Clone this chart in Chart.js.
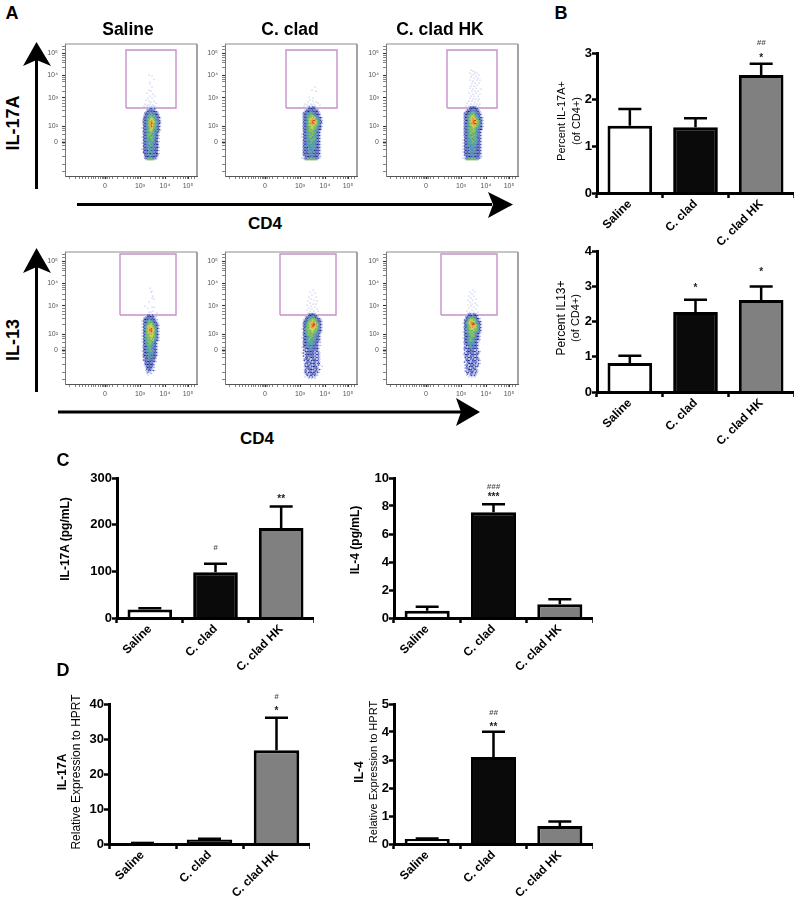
<!DOCTYPE html>
<html>
<head>
<meta charset="utf-8">
<script src="https://cdn.jsdelivr.net/npm/chart.js@4"></script>
<style>
  html, body { margin: 0; padding: 0; background: #fff; }
  #page { position: relative; width: 800px; height: 901px; overflow: hidden; font-family: "Liberation Sans", Arial, sans-serif; color: #000; }
  #page canvas { position: absolute; }
  #page canvas.flow { filter: blur(0.5px); }
  .lbl { position: absolute; white-space: nowrap; transform: translate(-50%, -50%); line-height: 1; }
  svg { position: absolute; left: 0; top: 0; }
</style>
</head>
<body>
<div id="page">
  <svg width="800" height="901">
    <g fill="#000" stroke="none">
      <rect x="35" y="60" width="3" height="129"/><polygon points="36.5,42 51,66 36.5,60 23,66"/>
      <rect x="77" y="203" width="415" height="3"/><polygon points="513,204.5 488,218 493,204.5 488,192"/>
      <rect x="35" y="265" width="3" height="127"/><polygon points="36.5,248 51,273 36.5,267 23,273"/>
      <rect x="58" y="410.5" width="405" height="3"/><polygon points="480,412 456,426 461,412 456,398"/>
    </g>
  </svg>
</div>
<script>
// bar panels
const groups = ['Saline', 'C. clad', 'C. clad HK'];
const barFills = ['#ffffff', '#0a0a0a', '#808080'];

const pctIl17a = [1.44, 1.41, 2.53];
const pctIl17aErr = [1.80, 1.60, 2.77];
const pctIl17aMarks = [[2, 2.92, '*'], [2, 3.21, '##']];

const pctIl13 = [0.82, 2.27, 2.61];
const pctIl13Err = [1.03, 2.62, 2.99];
const pctIl13Marks = [[1, 3.0, '*'], [2, 3.45, '*']];

const il17aPg = [18, 98, 193];
const il17aPgErr = [21, 116, 239];
const il17aPgMarks = [[1, 150, '#'], [2, 258, '**']];

const il4Pg = [0.52, 7.56, 0.98];
const il4PgErr = [0.81, 8.13, 1.34];
const il4PgMarks = [[1, 8.7, '***'], [1, 9.35, '###']];

const il17aRel = [0.3, 1.3, 26.8];
const il17aRelErr = [0.3, 1.5, 36.1];
const il17aRelMarks = [[2, 38.3, '*'], [2, 42, '#']];

const il4Rel = [0.18, 3.11, 0.64];
const il4RelErr = [0.2, 4.01, 0.8];
const il4RelMarks = [[1, 4.22, '**'], [1, 4.68, '##']];

// flow plots, display channels 0-132 on both axes
const flowXMajor = [40, 75, 100, 123];
const flowXLabels = ['0', '10³', '10⁴', '10⁵'];
const flowXMinor = [4, 10, 14, 17, 20, 23, 26, 28, 30, 33, 35, 37, 38, 42, 44, 47, 52, 58, 62, 65, 68, 70, 72, 73, 85, 90, 94, 97, 98, 108, 112, 115, 118, 120, 122, 126, 129];
const flowYMajor = [34, 50, 78, 101, 123];
const flowYLabels = ['0', '10²', '10³', '10⁴', '10⁵'];
const flowYMinor = [5, 12, 20, 27, 31, 37, 42, 46, 48, 60, 66, 70, 73, 76, 85, 90, 94, 97, 99, 108, 113, 116, 119, 121, 126, 129];

// density, top row first, one char per 1.5 channels
const gridIl17aSaline = [
'.....--.-....',
'....-bb-b-...',
'...-bbdbb-...',
'..-bbtbbdb-..',
'..bdbttbbbb-.',
'.-bbttgttdb-.',
'.-dbtggtgtbb.',
'.bbttgygttbd-',
'.bdtggyygtbb-',
'-bbtgyoygttb-',
'.dbtgoroygtbb',
'-bbtgyrogttd-',
'.bdtgoryggtb-',
'.bbtgyrogtbb-',
'-dbttgoygttd.',
'.bbtgyygttbb-',
'.dbtggygtbbd-',
'-bbttgggttb-.',
'.bdtgggttbd-.',
'.bbtggtgtbb-.',
'-dbtgtggtbd-.',
'.bbttggttbb-.',
'.dbtgttgtdb..',
'.bbtttgttbb-.',
'-bdttgttbdb-.',
'.bbttgttbbd..',
'.dbbttttbbb-.',
'.bbtttbttbd-.',
'-bdbttttbdb..',
'.bbdttbtbbb-.',
'.dbbttttbdb..',
'.bbbtdtbbdb-.',
'..dbbttbbbd-.',
'.-bdbtbdbb-..',
'..bbgtgtbb-..',
'..-ggggg--...'];
const gridIl17aClad = [
'....-b-bb-....',
'...-bbdbb--...',
'..-bdbbdbbb-..',
'.-bbdttbbdb-..',
'.bdbttttbdbb-.',
'-bbttggttbdb-.',
'.bdtgggygtbb-.',
'-bbtggyoygtbd-',
'.bdtgyyoygttb-',
'-bbtgyorrygtb-',
'.dbtgyoroygtbd',
'-bbtggoroygtb-',
'.bdtgyyoyggtb-',
'-bbtggyyggtbd-',
'.dbttgyyggtbb-',
'-bbtgggygttdb.',
'.bdtggggttbb-.',
'.bbttggggtbd-.',
'-dbtggtgtttb-.',
'.bbttgggttbd-.',
'-bdttggtttbb-.',
'.bbttgtggtdb-.',
'.dbtttggttbb-.',
'-bbtttgtttbd-.',
'.bdbttgttbbb-.',
'-bbttttttbdb-.',
'.dbttbttttbb-.',
'-bbdtttttbdb-.',
'.bdbttbttbbb-.',
'-bbbttttdbbb-.',
'.dbdtttbtbdb-.',
'-bbbbttbbbbd-.',
'.bdbbtbtbdbb-.',
'.-bbdbtbbdb--.',
'--bbgtgtgbbb-.',
'.-gggggggg-...'];
const gridIl17aHk = [
'....-bbdb-....',
'...-bdbbdb-...',
'..-bbdtbbdb-..',
'.-bdbttttbb-..',
'.bbdttggtbdb-.',
'-bdttgggttbb-.',
'.bbtggyygtbd-.',
'-dbtgyoyggtbb-',
'.bbtgyooygtdb-',
'-bdtgyorrygtb-',
'.bbtgyoroygtd-',
'-dbtggorrggtb-',
'.bbtgyyooggtb-',
'-bbttgyyygtbd-',
'.dbtgggygttbb-',
'-bbtgggggtbdb.',
'.bdttggygtbb-.',
'-bbtggggttbd-.',
'.dbttggtgtbb-.',
'-bbtgtgggttb-.',
'.bdttgggttdb-.',
'.bbttgtggtbb-.',
'-dbtttgtttbd-.',
'.bbtttggttbb-.',
'-bdbttgtttdb-.',
'.bbttttttbbb-.',
'-dbttbtttbdb-.',
'.bbdttttbbbb-.',
'-bdbttbttbdb-.',
'.bbbtttttdbb-.',
'-dbdttbtbbbd-.',
'.bbbbttbbdbb-.',
'.bdbbtbtbbdb-.',
'.-bbdbtbdbb--.',
'--bbgtgtgbbb-.',
'.-gggggggg-...'];
const gridIl13Saline = [
'...-bb-b-...',
'..-bbdbb--..',
'.-bbdtbdb-..',
'.bdbttbbb--.',
'-bbttgttdb-.',
'.bdtgggtbb-.',
'-bbtggygtbd-',
'.btgyyygtbb-',
'-dtgyoyygtb-',
'.btgyorygtd-',
'-btgyrroytb-',
'.dtgyorygtb-',
'-btgyooygtb-',
'.btggyoygtd-',
'-dtggyyygtb-',
'.btgggyggtb-',
'-bttggyggtb-',
'.dtggggytbb-',
'-bttgggttd-.',
'.dttgggtbb-.',
'.bbtggttbd-.',
'-bdttgttbb-.',
'.bbttgtbdb-.',
'.dbttgttbb-.',
'-bbtttgtbd-.',
'.bdbttttbb-.',
'.bbtttbtdb-.',
'-dbbttbbbb-.',
'.bbdtbtbdb..',
'.-bbttbbb-..',
'.bdbtbdbb-..',
'.-bbdbtbb-..',
'..bbbdbb-...',
'.-bdbbdb-...',
'..-bbdbb-...',
'..-dbbb--...',
'...bbdb-....',
'..--bb-b-...',
'...-b--.....',
'...-.--.....',
'....-.......'];
const gridIl13Clad = [
'....-bbdb-....',
'...-bdbtbb-...',
'..-bdttttdb-..',
'..bbttgggtbb-.',
'.-bdtggyggtdb-',
'.bbtggyoygtbb-',
'.bdtgyoorygtb-',
'-btggyorroytd-',
'.bdtgyorrygtb-',
'.btggyooyygtb-',
'-dtggyyyyggtb-',
'.btgggyyggtbd-',
'.bttgggyggtbb-',
'-dtggggggttb-.',
'.bbtggggttbd-.',
'.bdttgggttbb-.',
'-bbttggtttdb-.',
'.dbtggtgtbbb-.',
'.bbttgttbbdb-.',
'-bdtttgttbb--.',
'.bbbttttbdb-..',
'.dbttbtbbbb--.',
'-bbbtttbdbb-..',
'.-bdbttbbbd-..',
'.bb-btbbdbb-..',
'.-dbbdbb-bb-..',
'-b-bbtbdbb-b-.',
'.-bbdbbb-bd-..',
'.b-dbbtbbb-b-.',
'..bb-bdb-bb-..',
'.-bdbb-bdb-b-.',
'.b-bb-dbbbb-..',
'..-bdbb-bb-b-.',
'.-bb-bbdb-bb..',
'..b-dbb-bb-b-.',
'.-bbb-bdbb-..-',
'..-bdbb-bbd-..',
'.-b-bbdb-b-b-.',
'..bb-bb-bdb-..',
'.-b-dbbbb-b-..',
'..-bb-bdbb-...',
'...b-bb-b--...',
'..-.-b-b--....',
'....-.-.-.....'];
const gridIl13Hk = [
'...-bb-bb-...',
'..-bbdtbdb-..',
'..bdttttbb-..',
'.-btggggtdb-.',
'.bdtgyyggtb-.',
'.btgyoyygtbb-',
'-dtgyorrgtbd-',
'.btgyorrygtb-',
'.bdtgyooygtb-',
'-btggyoyygtb-',
'.dttgyyyggtd-',
'.bttgggyggtb-',
'-btgggggttbb-',
'.dbtggggtbd-.',
'.bbttgggtbb-.',
'.bdttgggtdb-.',
'-bbttgttbbb-.',
'.dbtggttbdb-.',
'.bbttgttbb--.',
'-bdtttttdb-..',
'.bbbttbtbb-..',
'.-dbttbbdb-..',
'.bb-tttbbb-..',
'-bbdbtbdbb-..',
'.b-bbdbb-b-..',
'.-bdbtbdb-b-.',
'.b-bbdbb-bd-.',
'-bdb-bbdbb-..',
'.-bb-dbb-b-..',
'.b-dbb-bdb-..',
'..bb-bbd-bb-.',
'.-bdb-bbb-b-.',
'.b-bb-dbbb-..',
'..-bdbb-b-b-.',
'.-bb-bbdb-b..',
'..b-dbb-bb-..',
'.-bbb-bdb-...',
'..-bdb-bb-...',
'.-b-bbdb-b-..',
'..bb-bb-b-...',
'...b-bb-b-...',
'..-.-b-b-....',
'....-.-.-....'];

// sparse events above the main population
const sparseIl17aSaline = [[84,101],[87,100],[89,97],[85,94],[85,92],[87,89],[84,86],[82,83],[86,85],[88,82],[85,80],[83,78],[87,78],[90,80],[81,76],[84,75],[86,74],[89,75],[80,72],[83,71],[85,72],[88,71],[91,73],[79,70],[82,70],[87,70],[90,70]];
const sparseIl17aClad = [[90,89],[87,86],[91,85],[84,79],[88,78],[85,76],[83,74],[88,75],[91,74],[80,72],[86,72],[89,72],[93,73],[82,71],[84,70],[87,71],[90,70],[95,71],[79,70]];
const sparseIl17aHk = [[85,106],[87,105],[89,104],[84,103],[88,102],[91,103],[86,101],[90,100],[93,101],[85,99],[88,98],[92,98],[84,96],[87,95],[91,96],[94,96],[86,93],[89,93],[93,93],[85,90],[88,90],[91,91],[84,88],[87,87],[90,88],[95,87],[86,85],[89,85],[92,85],[83,83],[87,82],[90,83],[94,82],[85,80],[88,80],[92,80],[84,78],[87,77],[90,77],[93,77],[83,75],[86,75],[89,74],[92,75],[81,73],[85,72],[88,72],[91,72],[94,72],[80,70],[83,70],[87,70],[90,70],[93,70]];
const sparseIl13Saline = [[85,96],[87,93],[86,92],[88,88],[87,86],[89,85],[84,82],[80,78],[83,76],[87,77],[89,77],[84,72],[86,72],[88,73],[92,71]];
const sparseIl13Clad = [[88,94],[85,92],[90,91],[87,89],[84,87],[91,87],[86,85],[89,84],[83,83],[92,83],[85,81],[88,80],[91,80],[82,79],[86,78],[90,77],[84,76],[87,75],[92,75],[82,74],[85,73],[89,73],[93,73],[83,71],[87,71],[90,71]];
const sparseIl13Hk = [[87,94],[84,92],[89,92],[86,90],[83,88],[88,88],[85,86],[90,85],[82,84],[87,84],[84,82],[89,81],[86,80],[82,79],[91,79],[85,78],[88,77],[83,76],[90,75],[86,74],[81,73],[84,72],[88,72],[92,72],[83,71],[86,71]];

// gates as [xLow, xHigh, yLow, yHigh]
const gateIl17aSaline = [61, 111, 68, 126];
const gateIl17aClad = [61, 112, 68, 126];
const gateIl17aHk = [61, 111, 68, 126];
const gateIl13Saline = [55, 111, 69, 130];
const gateIl13Clad = [55, 111, 69, 130];
const gateIl13Hk = [55, 111, 69, 130];

const page = document.getElementById('page');
const FONT = '"Liberation Sans", Arial, sans-serif';

const addCanvas = (x, y, w, h, cls) => {
  const c = document.createElement('canvas');
  c.width = w; c.height = h;
  c.style.left = x + 'px'; c.style.top = y + 'px';
  c.style.width = w + 'px'; c.style.height = h + 'px';
  if (cls) c.className = cls;
  page.appendChild(c);
  return c;
};

const label = (text, x, y, size, weight, rotate) => {
  const d = document.createElement('div');
  d.className = 'lbl';
  d.textContent = text;
  d.style.left = x + 'px'; d.style.top = y + 'px';
  d.style.fontSize = size + 'px'; d.style.fontWeight = weight || 'bold';
  if (rotate) d.style.transform = 'translate(-50%, -50%) rotate(-90deg)';
  page.appendChild(d);
};

// error bars, upper side only
const errorBars = {
  id: 'errorBars',
  beforeDatasetsDraw(chart, args, opts) {
    const { ctx, scales } = chart;
    const bars = chart.getDatasetMeta(0).data;
    ctx.save();
    ctx.strokeStyle = '#000';
    ctx.lineWidth = 2.5;
    opts.tops.forEach((v, i) => {
      const x = bars[i].x, y = scales.y.getPixelForValue(v), base = bars[i].y;
      ctx.beginPath();
      ctx.moveTo(x, base); ctx.lineTo(x, y);
      ctx.moveTo(x - 11.5, y); ctx.lineTo(x + 11.5, y);
      ctx.stroke();
    });
    ctx.restore();
  }
};

// significance marks
const sigMarks = {
  id: 'sigMarks',
  afterDatasetsDraw(chart, args, opts) {
    const { ctx, scales } = chart;
    const bars = chart.getDatasetMeta(0).data;
    ctx.save();
    ctx.textAlign = 'center';
    ctx.textBaseline = 'middle';
    opts.marks.forEach(([i, v, text]) => {
      const star = text[0] === '*';
      ctx.font = star ? 'bold 10px ' + FONT : 'italic bold 8px ' + FONT;
      ctx.fillStyle = star ? '#222' : '#555';
      ctx.fillText(text, bars[i].x, scales.y.getPixelForValue(v) + (star ? 1.5 : 0));
    });
    ctx.restore();
  }
};

const barChart = (box, values, errs, marks, yMax, step) => {
  const axisW = 60, axisH = 70, padTop = 24;
  const w = axisW + box.right - box.left, h = padTop + box.bottom - box.top + axisH;
  const canvas = addCanvas(box.left - axisW, box.top - padTop, w, h);
  new Chart(canvas, {
    type: 'bar',
    data: {
      labels: groups,
      datasets: [{
        data: values,
        backgroundColor: barFills,
        borderColor: '#000',
        borderWidth: 3,
        barPercentage: 0.68,
        categoryPercentage: 1
      }]
    },
    plugins: [errorBars, sigMarks],
    options: {
      responsive: false,
      animation: false,
      layout: { padding: { top: padTop, left: 0, right: 0, bottom: 0 } },
      plugins: {
        legend: { display: false },
        tooltip: { enabled: false },
        errorBars: { tops: errs },
        sigMarks: { marks: marks }
      },
      scales: {
        x: {
          afterFit: s => { s.height = axisH; },
          border: { color: '#000', width: 3, z: 1 },
          grid: { drawOnChartArea: false, color: '#000', tickLength: 5, tickWidth: 2.5, tickColor: '#000' },
          ticks: { color: '#000', font: { family: FONT, size: 12, weight: 'bold' }, minRotation: 45, maxRotation: 45, padding: -1, autoSkip: false }
        },
        y: {
          min: 0,
          max: yMax,
          afterFit: s => { s.width = axisW; },
          border: { color: '#000', width: 3, z: 1 },
          grid: { drawOnChartArea: false, tickLength: 5, tickWidth: 2.5, tickColor: '#000' },
          ticks: { stepSize: step, color: '#000', font: { family: FONT, size: 13, weight: 'bold' }, padding: 0 }
        }
      }
    }
  });
};

barChart({ left: 597, right: 794, top: 53, bottom: 193 }, pctIl17a, pctIl17aErr, pctIl17aMarks, 3, 1);
barChart({ left: 597, right: 794, top: 251, bottom: 392 }, pctIl13, pctIl13Err, pctIl13Marks, 4, 1);
barChart({ left: 117, right: 314, top: 478, bottom: 618 }, il17aPg, il17aPgErr, il17aPgMarks, 300, 100);
barChart({ left: 394, right: 593, top: 478, bottom: 618 }, il4Pg, il4PgErr, il4PgMarks, 10, 2);
barChart({ left: 109, right: 310, top: 704, bottom: 844 }, il17aRel, il17aRelErr, il17aRelMarks, 40, 10);
barChart({ left: 394, right: 593, top: 704, bottom: 844 }, il4Rel, il4RelErr, il4RelMarks, 5, 1);

// top and right edges of the flow plots
const flowFrame = {
  id: 'flowFrame',
  afterDraw(chart) {
    const { ctx, chartArea: a } = chart;
    ctx.save();
    ctx.strokeStyle = '#8c8c8c';
    ctx.lineWidth = 1.2;
    ctx.beginPath(); ctx.moveTo(a.left, a.top); ctx.lineTo(a.right, a.top); ctx.stroke();
    ctx.strokeStyle = '#9a9a9a';
    ctx.lineWidth = 1.8;
    ctx.beginPath(); ctx.moveTo(a.right, a.top); ctx.lineTo(a.right, a.bottom); ctx.stroke();
    ctx.restore();
  }
};

const densityLevels = [
  ['-', '#aab4e6', 0.7],
  ['b', '#3c4cb4', 0.85],
  ['d', '#1e2880', 0.85],
  ['t', '#4a98a4', 0.95],
  ['g', '#7ab956', 1],
  ['y', '#cccc44', 0.95],
  ['o', '#e8962e', 0.95],
  ['r', '#d93c28', 0.95]
];

// every other row sits half a cell over, the cytometer plot has no lattice
const gridPoints = (grid, xStart, yTop, key) => {
  const pts = [];
  grid.forEach((row, r) => {
    [...row].forEach((ch, c) => {
      if (ch === key) pts.push({ x: xStart + c * 1.5 + (r % 2) * 0.75, y: yTop - r * 1.5 });
    });
  });
  return pts;
};

const flowTicks = (major, minor) => scale => {
  scale.ticks = [...major, ...minor].sort((a, b) => a - b).map(v => ({ value: v }));
};
const flowTickWidth = major => ctx => {
  if (!ctx.tick) return 0.6;
  if (ctx.tick.value === major[0]) return 1.7;
  return major.includes(ctx.tick.value) ? 1.1 : 0.6;
};

const flowChart = (left, top, grid, xStart, yTop, sparse, gate) => {
  const axisW = 30, axisH = 18, pad = 10, size = 132;
  const canvas = addCanvas(left - axisW, top - pad, axisW + size + pad, pad + size + axisH, 'flow');
  const datasets = [{
    data: sparse.map(p => ({ x: p[0], y: p[1] })),
    backgroundColor: '#98a3dc',
    pointRadius: 0.6,
    pointBorderWidth: 0
  }];
  densityLevels.forEach(([key, color, r]) => {
    datasets.push({
      data: gridPoints(grid, xStart, yTop, key),
      backgroundColor: color,
      pointRadius: r,
      pointBorderWidth: 0
    });
  });
  datasets.push({
    data: [
      { x: gate[0], y: gate[2] }, { x: gate[1], y: gate[2] },
      { x: gate[1], y: gate[3] }, { x: gate[0], y: gate[3] },
      { x: gate[0], y: gate[2] }
    ],
    showLine: true,
    borderColor: '#c98fca',
    borderWidth: 1.4,
    pointRadius: 0
  });
  new Chart(canvas, {
    type: 'scatter',
    data: { datasets },
    plugins: [flowFrame],
    options: {
      responsive: false,
      animation: false,
      layout: { padding: { top: pad, right: pad, left: 0, bottom: 0 } },
      plugins: { legend: { display: false }, tooltip: { enabled: false } },
      scales: {
        x: {
          type: 'linear', min: 0, max: 132,
          afterFit: s => { s.height = axisH; },
          afterBuildTicks: flowTicks(flowXMajor, flowXMinor),
          border: { color: '#555', width: 1 },
          grid: { drawOnChartArea: false, tickLength: 3, tickColor: '#333', tickWidth: flowTickWidth(flowXMajor) },
          ticks: {
            autoSkip: false, maxRotation: 0, padding: 3, color: '#555',
            font: { family: FONT, size: 7 },
            callback: v => { const i = flowXMajor.indexOf(v); return i < 0 ? '' : flowXLabels[i]; }
          }
        },
        y: {
          type: 'linear', min: 0, max: 132,
          afterFit: s => { s.width = axisW; },
          afterBuildTicks: flowTicks(flowYMajor, flowYMinor),
          border: { color: '#777', width: 1 },
          grid: { drawOnChartArea: false, tickLength: 3, tickColor: '#333', tickWidth: flowTickWidth(flowYMajor) },
          ticks: {
            autoSkip: false, padding: 4, color: '#555',
            font: { family: FONT, size: 7 },
            callback: v => { const i = flowYMajor.indexOf(v); return i < 0 ? '' : flowYLabels[i]; }
          }
        }
      }
    }
  });
};

flowChart(65, 44, gridIl17aSaline, 77, 69, sparseIl17aSaline, gateIl17aSaline);
flowChart(225, 44, gridIl17aClad, 77, 69, sparseIl17aClad, gateIl17aClad);
flowChart(386, 44, gridIl17aHk, 77, 69, sparseIl17aHk, gateIl17aHk);
flowChart(65, 252, gridIl13Saline, 77, 69, sparseIl13Saline, gateIl13Saline);
flowChart(225, 252, gridIl13Clad, 77, 70, sparseIl13Clad, gateIl13Clad);
flowChart(386, 252, gridIl13Hk, 77, 70, sparseIl13Hk, gateIl13Hk);

// panel letters and headings
label('A', 12, 13, 18);
label('B', 561, 13, 18);
label('C', 63, 460, 18);
label('D', 63, 670, 18);
label('Saline', 128, 30, 17.5);
label('C. clad', 290, 30, 17.5);
label('C. clad HK', 440, 30, 17.5);
label('IL-17A', 13, 123, 18, 'bold', true);
label('IL-13', 13, 340, 18, 'bold', true);
label('CD4', 265, 223, 17);
label('CD4', 257, 438, 17);

// y titles
label('Percent IL-17A+', 561, 121, 11, 'normal', true);
label('(of CD4+)', 576, 121, 11, 'normal', true);
label('Percent IL13+', 561, 318, 12, 'normal', true);
label('(of CD4+)', 575, 318, 11, 'normal', true);
label('IL-17A (pg/mL)', 65, 539, 12, 'bold', true);
label('IL-4 (pg/mL)', 355, 540, 12, 'bold', true);
label('IL-17A', 62, 772, 12, 'bold', true);
label('Relative Expression to HPRT', 76, 772, 12, 'normal', true);
label('IL-4', 359, 772, 12, 'bold', true);
label('Relative Expression to HPRT', 373, 772, 11, 'normal', true);
</script>
</body>
</html>
